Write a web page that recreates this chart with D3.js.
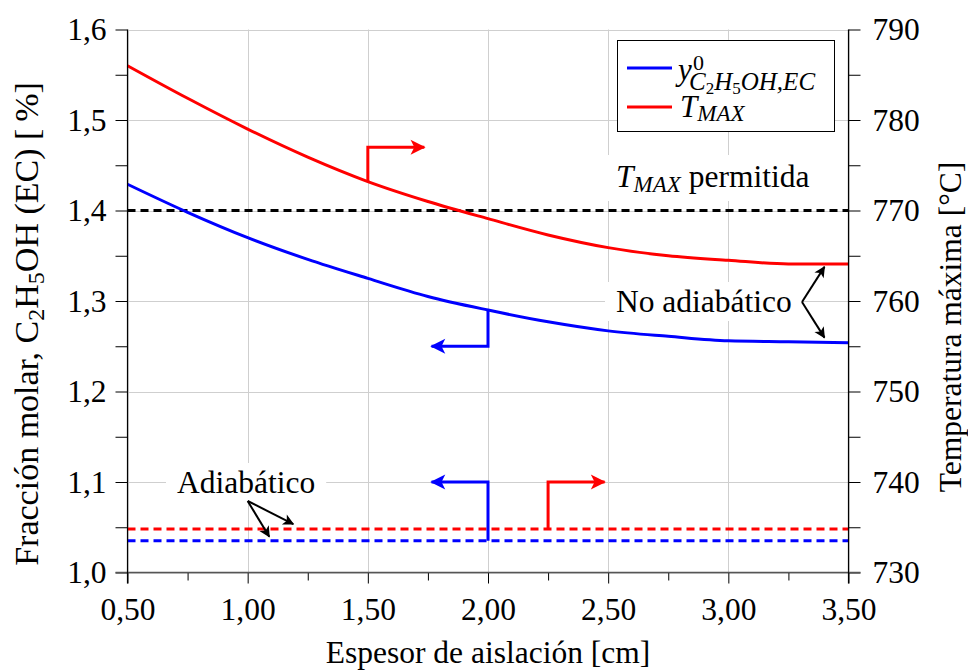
<!DOCTYPE html>
<html>
<head>
<meta charset="utf-8">
<script src="https://cdn.jsdelivr.net/npm/d3@7/dist/d3.min.js"></script>
<style>
  body { margin: 0; background: #fff; }
  svg { display: block; }
  text { font-family: "Liberation Serif", "Times New Roman", Times, serif; fill: #000; }
</style>
</head>
<body>
<svg id="chart" width="968" height="671"></svg>
<script>
// Insulation thickness [cm]
const espesor = [0.5, 0.75, 1.0, 1.25, 1.5, 1.75, 2.0, 2.25, 2.5, 2.75, 3.0, 3.25, 3.5];
// Inlet ethanol molar fraction, non-adiabatic case [%]
const fraccionNoAdiab = [1.429, 1.398, 1.370, 1.346, 1.325, 1.305, 1.290, 1.277, 1.267, 1.261, 1.256, 1.255, 1.254];
// Maximum temperature, non-adiabatic case [°C]
const tMaxNoAdiab = [786.0, 782.4, 779.0, 775.9, 773.2, 771.0, 769.1, 767.3, 765.9, 765.0, 764.5, 764.1, 764.1];
// Adiabatic reference levels and allowed maximum temperature
const fraccionAdiab = [1.035, 1.035];
const tMaxAdiab = [734.8, 734.8];
const tMaxPermitida = [770, 770];
const xExtent = [0.5, 3.5];

const xTicks = [0.5, 1.0, 1.5, 2.0, 2.5, 3.0, 3.5];
const xMinor = [0.75, 1.25, 1.75, 2.25, 2.75, 3.25];
const yLeftTicks = [1.0, 1.1, 1.2, 1.3, 1.4, 1.5, 1.6];
const yLeftMinor = [1.05, 1.15, 1.25, 1.35, 1.45, 1.55];
const yRightTicks = [730, 740, 750, 760, 770, 780, 790];
const yRightMinor = [735, 745, 755, 765, 775, 785];

const BLUE = "#0000ff", RED = "#ff0000";
const FS = 31.5;

const svg = d3.select("#chart");
const L = 127.5, R = 848.5, T = 29.5, B = 572.5;

const x = d3.scaleLinear().domain([0.5, 3.5]).range([L, R]);
const yL = d3.scaleLinear().domain([1.0, 1.6]).range([B, T]);
const yR = d3.scaleLinear().domain([730, 790]).range([B, T]);
const comma = (v, d) => v.toFixed(d).replace(".", ",");

// arrowheads
const defs = svg.append("defs");
function marker(id, color, size) {
  defs.append("marker")
    .attr("id", id).attr("markerUnits", "userSpaceOnUse")
    .attr("viewBox", "-12 -7 14 14").attr("refX", 0).attr("refY", 0)
    .attr("markerWidth", size * 14 / 12).attr("markerHeight", size * 14 / 12)
    .attr("orient", "auto")
    .append("path").attr("d", "M1,0 L-11,-6 L-8,0 L-11,6 Z").attr("fill", color);
}
marker("ahBlue", BLUE, 15);
marker("ahRed", RED, 15);
marker("ahBlack", "#000", 11);

// grid
const grid = svg.append("g").attr("stroke", "#cfcfcf").attr("stroke-width", 1);
grid.selectAll("line.v").data(xTicks).join("line")
  .attr("x1", d => Math.round(x(d)) + 0.5).attr("x2", d => Math.round(x(d)) + 0.5)
  .attr("y1", T).attr("y2", B);
grid.selectAll("line.h").data(yLeftTicks).join("line")
  .attr("x1", L).attr("x2", R)
  .attr("y1", d => Math.round(yL(d)) + 0.5).attr("y2", d => Math.round(yL(d)) + 0.5);

// annotation labels on white backing boxes
const annot = svg.append("g");
function boxedLabel(px, py, build, padX, padY) {
  const g = annot.append("g");
  const t = g.append("text").attr("x", px).attr("y", py).attr("font-size", FS);
  build(t);
  const bb = t.node().getBBox();
  g.insert("rect", "text")
    .attr("x", bb.x - padX).attr("y", bb.y - padY)
    .attr("width", bb.width + 2 * padX).attr("height", bb.height + 2 * padY)
    .attr("fill", "#fff");
  return t;
}
boxedLabel(616, 187, t => {
  t.append("tspan").attr("font-style", "italic").text("T");
  t.append("tspan").attr("font-style", "italic").attr("font-size", 23).attr("dy", 5).text("MAX");
  t.append("tspan").attr("dy", -5).text(" permitida");
}, 10, 4);
boxedLabel(616, 312, t => t.text("No adiabático"), 11, 2);
boxedLabel(177, 493, t => t.text("Adiabático"), 11, 2);

// dashed reference lines
const hline = (arr, scale) => d3.line().x((d, i) => x(xExtent[i])).y(d => scale(d))(arr);
svg.append("path").attr("d", hline(tMaxPermitida, yR))
  .attr("fill", "none").attr("stroke", "#000").attr("stroke-width", 3).attr("stroke-dasharray", "8,5");
svg.append("path").attr("d", hline(tMaxAdiab, yR))
  .attr("fill", "none").attr("stroke", RED).attr("stroke-width", 3).attr("stroke-dasharray", "8,5");
svg.append("path").attr("d", hline(fraccionAdiab, yL))
  .attr("fill", "none").attr("stroke", BLUE).attr("stroke-width", 3).attr("stroke-dasharray", "8,5");

// curves
const curve = scale => d3.line().x((d, i) => x(espesor[i])).y(d => scale(d)).curve(d3.curveMonotoneX);
svg.append("path").attr("d", curve(yL)(fraccionNoAdiab))
  .attr("fill", "none").attr("stroke", BLUE).attr("stroke-width", 3);
svg.append("path").attr("d", curve(yR)(tMaxNoAdiab))
  .attr("fill", "none").attr("stroke", RED).attr("stroke-width", 3);

// arrows pointing each curve to its axis
const ptLine = d3.line().x(d => x(d[0])).y(d => d[2](d[1]));
function lArrow(pts, color, mk) {
  svg.append("path").attr("d", ptLine(pts))
    .attr("fill", "none").attr("stroke", color).attr("stroke-width", 3)
    .attr("marker-end", `url(#${mk})`);
}
lArrow([[1.5, tMaxNoAdiab[4], yR], [1.5, 777, yR], [1.735, 777, yR]], RED, "ahRed");
lArrow([[2.0, fraccionNoAdiab[6], yL], [2.0, 1.25, yL], [1.765, 1.25, yL]], BLUE, "ahBlue");
lArrow([[2.0, fraccionAdiab[0], yL], [2.0, 1.1, yL], [1.765, 1.1, yL]], BLUE, "ahBlue");
lArrow([[2.25, tMaxAdiab[0], yR], [2.25, 740, yR], [2.485, 740, yR]], RED, "ahRed");

// label pointers
function pointer(x1, y1, x2, y2) {
  svg.append("line").attr("x1", x1).attr("y1", y1).attr("x2", x2).attr("y2", y2)
    .attr("stroke", "#000").attr("stroke-width", 2).attr("marker-end", "url(#ahBlack)");
}
pointer(x(1.0), yL(1.1) + 19, x(1.19), yR(tMaxAdiab[0]) - 5);
pointer(x(1.0), yL(1.1) + 19, x(1.09), yL(fraccionAdiab[0]) - 4);
pointer(802, 302, x(3.40), yR(tMaxNoAdiab[12]) + 3);
pointer(802, 302, x(3.40), yL(fraccionNoAdiab[12]) - 5);

// axes
const tickStyle = g => {
  g.select(".domain").remove();
  g.attr("font-family", null).attr("font-size", null);
  g.selectAll(".tick line").attr("stroke", "#000").attr("stroke-width", 1);
  g.selectAll(".tick text").attr("font-size", FS).attr("fill", "#000");
};
svg.append("g").attr("transform", `translate(${L},0)`)
  .call(d3.axisLeft(yL).tickValues(yLeftTicks).tickSize(12).tickPadding(9).tickFormat(d => comma(d, 1)))
  .call(tickStyle);
svg.append("g").attr("transform", `translate(${L},0)`)
  .call(d3.axisLeft(yL).tickValues(yLeftMinor).tickSize(12).tickFormat(""))
  .call(tickStyle);
svg.append("g").attr("transform", `translate(${R},0)`)
  .call(d3.axisRight(yR).tickValues(yRightTicks).tickSize(12).tickPadding(12).tickFormat(d3.format("d")))
  .call(tickStyle);
svg.append("g").attr("transform", `translate(${R},0)`)
  .call(d3.axisRight(yR).tickValues(yRightMinor).tickSize(12).tickFormat(""))
  .call(tickStyle);
svg.append("g").attr("transform", `translate(0,${B})`)
  .call(d3.axisBottom(x).tickValues(xTicks).tickSize(11).tickPadding(14).tickFormat(d => comma(d, 2)))
  .call(tickStyle);
svg.append("g").attr("transform", `translate(0,${B})`)
  .call(d3.axisBottom(x).tickValues(xMinor).tickSize(8).tickFormat(""))
  .call(tickStyle);

// axis lines
svg.append("line").attr("x1", L - 12).attr("x2", R + 12).attr("y1", B).attr("y2", B)
  .attr("stroke", "#555").attr("stroke-width", 1.5);
svg.append("line").attr("x1", L).attr("x2", L).attr("y1", T).attr("y2", B + 11)
  .attr("stroke", "#000").attr("stroke-width", 1.2);
svg.append("line").attr("x1", R).attr("x2", R).attr("y1", T).attr("y2", B + 11)
  .attr("stroke", "#000").attr("stroke-width", 1.2);

// axis titles
svg.append("text").attr("x", (L + R) / 2).attr("y", 663).attr("text-anchor", "middle")
  .attr("font-size", FS).text("Espesor de aislación [cm]");

const yt = svg.append("text").attr("transform", "translate(38,324) rotate(-90)")
  .attr("text-anchor", "middle").attr("font-size", 34);
yt.append("tspan").text("Fracción molar, C");
yt.append("tspan").attr("font-size", 24).attr("dy", 6).text("2");
yt.append("tspan").attr("dy", -6).text("H");
yt.append("tspan").attr("font-size", 24).attr("dy", 6).text("5");
yt.append("tspan").attr("dy", -6).text("OH (EC) [\u2009%]");

svg.append("text").attr("transform", "translate(961,327) rotate(-90)")
  .attr("text-anchor", "middle").attr("font-size", FS).text("Temperatura máxima [°C]");

// legend
const lg = svg.append("g");
lg.append("rect").attr("x", 617.5).attr("y", 40.5).attr("width", 217).attr("height", 91)
  .attr("fill", "#fff").attr("stroke", "#000").attr("stroke-width", 1);
lg.append("line").attr("x1", 627).attr("x2", 672).attr("y1", 68).attr("y2", 68)
  .attr("stroke", BLUE).attr("stroke-width", 3);
lg.append("line").attr("x1", 627).attr("x2", 672).attr("y1", 107).attr("y2", 107)
  .attr("stroke", RED).attr("stroke-width", 3);
const yl = lg.append("text").attr("x", 678).attr("y", 80).attr("font-size", 31).attr("font-style", "italic");
yl.append("tspan").text("y");
yl.append("tspan").attr("x", 693).attr("y", 70).attr("font-size", 22).attr("font-style", "normal").text("0");
yl.append("tspan").attr("x", 689).attr("y", 90).attr("font-size", 25).text("C");
yl.append("tspan").attr("font-size", 17).attr("font-style", "normal").attr("dy", 4).text("2");
yl.append("tspan").attr("font-size", 25).attr("dy", -4).text("H");
yl.append("tspan").attr("font-size", 17).attr("font-style", "normal").attr("dy", 4).text("5");
yl.append("tspan").attr("font-size", 25).attr("dy", -4).text("OH,EC");
const tl = lg.append("text").attr("x", 680).attr("y", 117).attr("font-size", 31).attr("font-style", "italic");
tl.append("tspan").text("T");
tl.append("tspan").attr("font-size", 23).attr("dy", 4).text("MAX");
</script>
</body>
</html>
